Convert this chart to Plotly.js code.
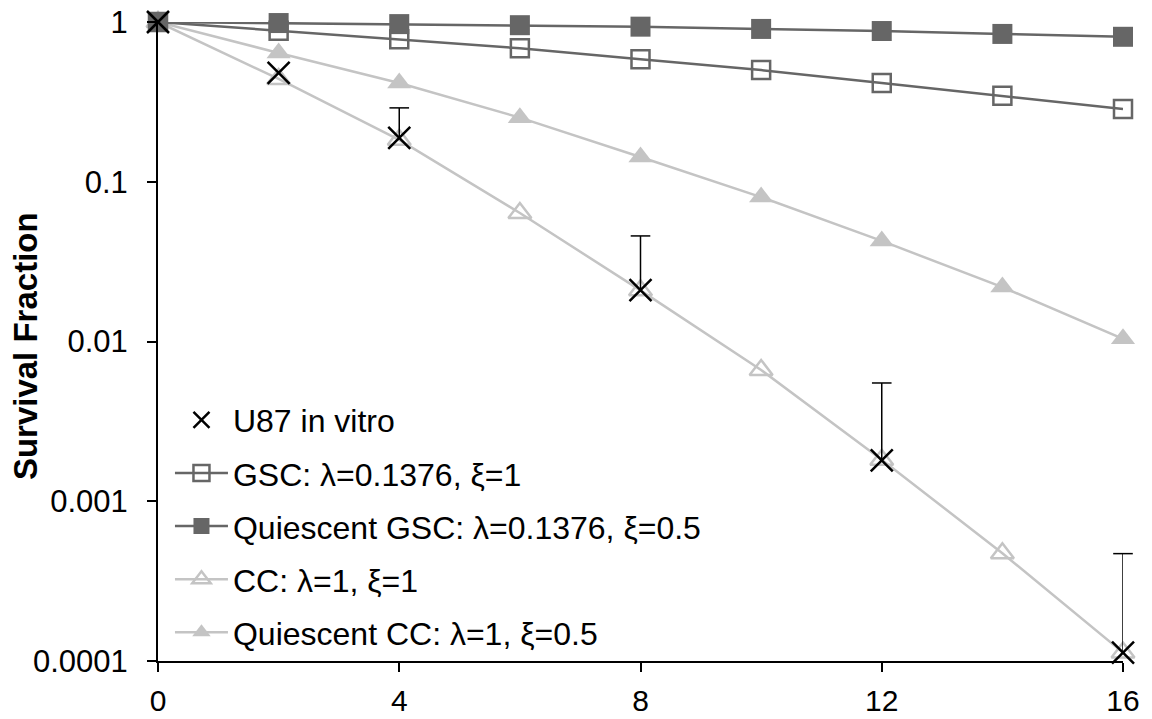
<!DOCTYPE html>
<html>
<head>
<meta charset="utf-8">
<script src="https://cdn.plot.ly/plotly-3.0.1.min.js"></script>
<style>html,body{margin:0;padding:0;background:#fff;}#chart{width:1152px;height:719px;}</style>
</head>
<body>
<div id="chart"></div>
<script>
// Data
const days = [0, 2, 4, 6, 8, 10, 12, 14, 16];
const gsc = [1, 0.88, 0.78, 0.685, 0.585, 0.5, 0.415, 0.345, 0.285];
const quiescentGsc = [1, 0.985, 0.97, 0.955, 0.935, 0.905, 0.878, 0.842, 0.808];
const cc = [1, 0.44, 0.183, 0.0637, 0.0209, 0.00663, 0.00182, 0.000473, 0.000113];
const quiescentCc = [1, 0.64, 0.415, 0.252, 0.143, 0.0802, 0.0426, 0.0219, 0.0104];
const u87Days = [0, 2, 4, 8, 12, 16];
const u87 = [1, 0.48, 0.188, 0.021, 0.0018, 0.000113];
const u87ErrUp = [null, null, 0.102, 0.0248, 0.0037, 0.000357];
const yTickVals = [0.0001, 0.001, 0.01, 0.1, 1];
const yTickText = ['0.0001', '0.001', '0.01', '0.1', '1'];
const xTickVals = [0, 4, 8, 12, 16];
const yTitle = 'Survival Fraction';

const names = {
  u87: 'U87 in vitro',
  gsc: 'GSC: λ=0.1376, ξ=1',
  qgsc: 'Quiescent GSC: λ=0.1376, ξ=0.5',
  cc: 'CC: λ=1, ξ=1',
  qcc: 'Quiescent CC: λ=1, ξ=0.5'
};

const dark = '#666666';
const light = '#c4c4c4';

// caps of the error bars at the upper error ends
const capX = [], capY = [];
u87Days.forEach((d, i) => { if (u87ErrUp[i] != null) { capX.push(d); capY.push(u87[i] + u87ErrUp[i]); } });

const traces = [
  {x: days, y: cc, name: names.cc, mode: 'lines+markers', legendrank: 4, legendgroup: 'cc',
   line: {color: light, width: 2.5},
   marker: {symbol: 'triangle-up-open', size: 20, color: light, line: {width: 2.5, color: light}}, cliponaxis: false},
  {x: days, y: quiescentCc, name: names.qcc, mode: 'lines+markers', legendrank: 5, legendgroup: 'qcc',
   line: {color: light, width: 2.5},
   marker: {symbol: 'triangle-up', size: 21, color: light, line: {width: 0}}, cliponaxis: false},
  {x: days, y: gsc, name: names.gsc, mode: 'lines+markers', legendrank: 2, legendgroup: 'gsc',
   line: {color: dark, width: 2.5},
   marker: {symbol: 'square-open', size: 18, color: dark, line: {width: 2.5, color: dark}}, cliponaxis: false},
  {x: days, y: quiescentGsc, name: names.qgsc, mode: 'lines+markers', legendrank: 3, legendgroup: 'qgsc',
   line: {color: dark, width: 2.5},
   marker: {symbol: 'square', size: 20, color: dark, line: {width: 0}}, cliponaxis: false},
  {x: u87Days, y: u87, name: names.u87, mode: 'markers', legendrank: 1, legendgroup: 'u87',
   marker: {symbol: 'x-thin-open', size: 22, color: '#000', line: {width: 2.5, color: '#000'}},
   error_y: {type: 'data', symmetric: false, array: u87ErrUp, arrayminus: u87ErrUp.map(v => v == null ? null : 0),
             color: '#000', thickness: 1.5, width: 0}, cliponaxis: false},
  {x: capX, y: capY, mode: 'markers', showlegend: false, hoverinfo: 'skip',
   marker: {symbol: 'line-ew-open', size: 14, color: '#000', line: {width: 1.5, color: '#000'}}, cliponaxis: false}
];

const fam = 'Liberation Sans, Arial, Helvetica, sans-serif';
const font = {family: fam, size: 31, color: '#000'};

const layout = {
  width: 1152, height: 719,
  margin: {l: 158, r: 29, t: 22, b: 58},
  paper_bgcolor: '#fff', plot_bgcolor: '#fff',
  font: font,
  showlegend: true,
  legend: {x: 0.0124, y: 0.42, xanchor: 'left', yanchor: 'top', bgcolor: 'rgba(0,0,0,0)',
           font: {family: fam, size: 32, color: '#000'}, traceorder: 'grouped', tracegroupgap: 8.5, itemwidth: 53},
  xaxis: {range: [0, 16], tickvals: xTickVals, ticktext: xTickVals.map(String), showgrid: false, zeroline: false,
          showline: true, linecolor: '#000', linewidth: 2, ticks: 'outside', ticklen: 9, tickwidth: 2, tickcolor: '#000',
          tickfont: {family: fam, size: 30, color: '#000'}, ticklabelstandoff: 3, automargin: false},
  yaxis: {type: 'log', range: [-4, 0], tickvals: yTickVals, ticktext: yTickText, showgrid: false, zeroline: false,
          showline: true, linecolor: '#000', linewidth: 2, ticks: 'outside', ticklen: 9, tickwidth: 2, tickcolor: '#000',
          tickfont: font, ticklabelstandoff: 13, automargin: false},
  annotations: [{text: '<b>' + yTitle + '</b>', xref: 'paper', yref: 'paper', x: -0.1373, y: 0.492,
                 xanchor: 'center', yanchor: 'middle', textangle: -90, showarrow: false,
                 font: {family: fam, size: 33, color: '#000'}}]
};

Plotly.newPlot('chart', traces, layout, {displayModeBar: false, staticPlot: true});
</script>
</body>
</html>
